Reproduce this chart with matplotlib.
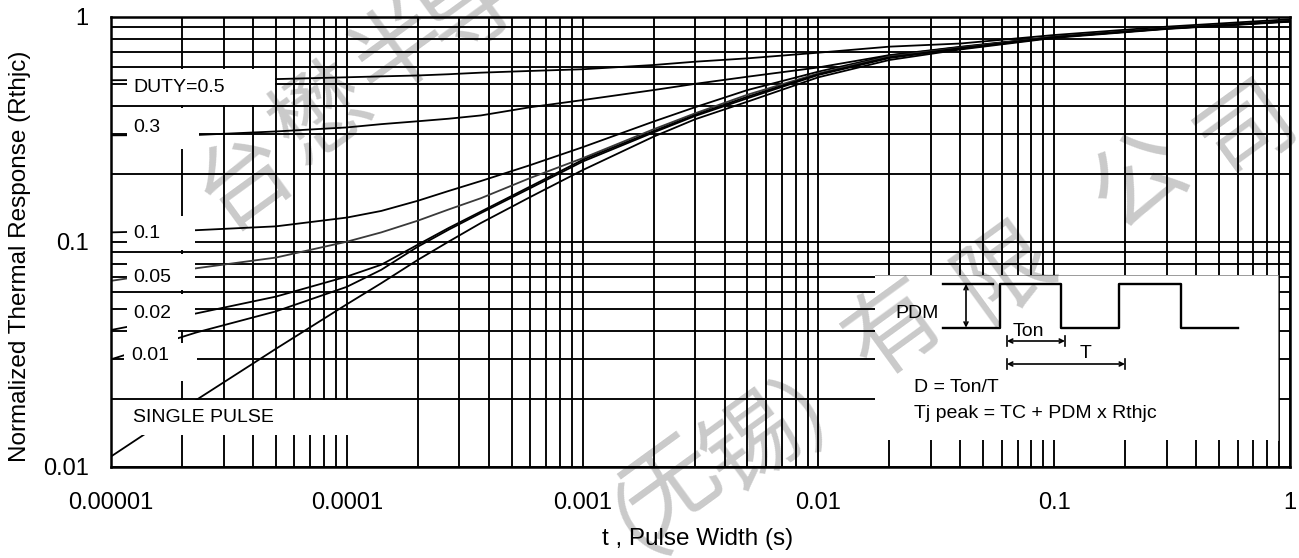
import matplotlib
matplotlib.use("Agg")
import matplotlib.pyplot as plt
from matplotlib.patches import Rectangle
from matplotlib.ticker import LogLocator, NullFormatter

plt.rcParams['font.family'] = ['Liberation Sans', 'DejaVu Sans']

# pulse width t (s)
t = [1e-5, 2.3e-5, 5e-5, 1e-4, 1.4e-4, 2e-4, 2.7e-4, 3.7e-4, 6e-4, 1e-3,
     2e-3, 3e-3, 5e-3, 1e-2, 2e-2, 4e-2, 0.1, 0.3, 1.0]

# normalized thermal response per duty cycle
duty_05 = [0.522, 0.525, 0.528, 0.538, 0.543, 0.548, 0.555, 0.564, 0.574, 0.584,
           0.610, 0.631, 0.653, 0.692, 0.736, 0.760, 0.829, 0.903, 0.974]
duty_03 = [0.297, 0.298, 0.309, 0.322, 0.333, 0.343, 0.352, 0.364, 0.396, 0.426,
           0.472, 0.503, 0.541, 0.595, 0.675, 0.735, 0.815, 0.890, 0.958]
duty_01 = [0.110, 0.1125, 0.117, 0.128, 0.137, 0.152, 0.168, 0.186, 0.219, 0.263,
           0.342, 0.396, 0.472, 0.570, 0.672, 0.732, 0.812, 0.888, 0.956]
duty_005 = [0.067, 0.0762, 0.085, 0.100, 0.110, 0.124, 0.139, 0.156, 0.192, 0.235,
            0.316, 0.372, 0.450, 0.560, 0.665, 0.728, 0.812, 0.888, 0.955]
duty_002 = [0.0405, 0.048, 0.057, 0.070, 0.079, 0.097, 0.115, 0.136, 0.176, 0.231,
            0.310, 0.366, 0.441, 0.555, 0.660, 0.725, 0.810, 0.886, 0.955]
duty_001 = [0.030, 0.0395, 0.049, 0.063, 0.075, 0.095, 0.113, 0.134, 0.173, 0.227,
            0.306, 0.362, 0.434, 0.551, 0.655, 0.720, 0.810, 0.885, 0.953]
single = [0.0111, 0.0198, 0.0334, 0.0527, 0.0654, 0.083, 0.100, 0.121, 0.158, 0.208,
          0.293, 0.350, 0.419, 0.538, 0.642, 0.715, 0.805, 0.882, 0.950]

curve_labels = ["DUTY=0.5", "0.3", "0.1", "0.05", "0.02", "0.01", "SINGLE PULSE"]

xticks = [1e-5, 1e-4, 1e-3, 1e-2, 1e-1, 1]
xticklabels = ["0.00001", "0.0001", "0.001", "0.01", "0.1", "1"]
yticks = [0.01, 0.1, 1]
yticklabels = ["0.01", "0.1", "1"]

watermark = "台懋半导（无锡）有限公司"

W, H = 1299, 558
AX_L, AX_R, AX_T, AX_B = 111, 1290, 16.7, 466.7


def A(px, py):
    # image pixel -> axes fraction
    return (px - AX_L) / (AX_R - AX_L), (AX_B - py) / (AX_B - AX_T)


fig = plt.figure(figsize=(W / 100, H / 100), dpi=100)
ax = fig.add_axes([AX_L / W, (H - AX_B) / H, (AX_R - AX_L) / W, (AX_B - AX_T) / H])
ax.set_xscale('log')
ax.set_yscale('log')
ax.set_xlim(1e-5, 1)
ax.set_ylim(0.01, 1)

series = [duty_05, duty_03, duty_01, duty_005, duty_002, duty_001, single]
colors = ['black', 'black', 'black', '#3a3a3a', 'black', 'black', 'black']
for ys, c in zip(series, colors):
    ax.plot(t, ys, color=c, lw=1.3, zorder=2)

ax.set_xticks(xticks, xticklabels)
ax.set_yticks(yticks, yticklabels)
sub = [2, 3, 4, 5, 6, 7, 8, 9]
ax.xaxis.set_minor_locator(LogLocator(base=10, subs=sub, numticks=20))
ax.yaxis.set_minor_locator(LogLocator(base=10, subs=sub, numticks=20))
ax.xaxis.set_minor_formatter(NullFormatter())
ax.yaxis.set_minor_formatter(NullFormatter())
ax.tick_params(which='both', length=0)
ax.tick_params(axis='x', pad=18, labelsize=17)
ax.tick_params(axis='y', pad=16, labelsize=17)
ax.set_axisbelow(True)
ax.grid(True, which='both', color='black', lw=1.35)
for s in ax.spines.values():
    s.set_linewidth(1.8)
    s.set_zorder(6)

# white label boxes over the grid (pixel boxes: x0, x1, y0, y1)
boxes = [(127, 275, 69, 105), (127, 199, 108, 149), (127, 195, 216, 250),
         (127, 195, 254, 290), (127, 195, 294, 330), (127, 178, 329, 343),
         (124, 197, 343, 381), (112, 400, 400, 435)]
for x0, x1, y0, y1 in boxes:
    ax0, ay0 = A(x0, y1)
    ax1, ay1 = A(x1, y0)
    ax.add_patch(Rectangle((ax0, ay0), ax1 - ax0, ay1 - ay0, transform=ax.transAxes,
                           facecolor='white', edgecolor='none', zorder=3))

label_pos = [(133, 87), (133, 127), (133, 233), (133, 277), (133, 314), (131, 355), (133, 418)]
for lab, (px, py) in zip(curve_labels, label_pos):
    ax.text(*A(px, py), lab, transform=ax.transAxes, fontsize=14,
            ha='left', va='center', zorder=4)

# inset with pulse train definition
ix0, iy0 = A(875, 440)
ix1, iy1 = A(1278, 275)
ax.add_patch(Rectangle((ix0, iy0), ix1 - ix0, iy1 - iy0, transform=ax.transAxes,
                       facecolor='white', edgecolor='none', zorder=3))
ax.plot([ix0, ix1, ix1], [iy1, iy1, iy0], transform=ax.transAxes, color='#8a8a8a',
        lw=0.6, zorder=4)

lo, hi = 327.7, 284
wave_px = [943, 1000, 1000, 1061, 1061, 1119, 1119, 1181, 1181, 1238]
wave_py = [lo, lo, hi, hi, lo, lo, hi, hi, lo, lo]
wx, wy = zip(*[A(a, b) for a, b in zip(wave_px, wave_py)])
ax.plot(wx, wy, transform=ax.transAxes, color='black', lw=1.7, zorder=4)
rx, ry = zip(A(943, hi), A(993, hi))
ax.plot(rx, ry, transform=ax.transAxes, color='black', lw=1.7, zorder=4)

arrow = dict(arrowstyle='<->', lw=1.2, color='black', mutation_scale=7,
             shrinkA=0, shrinkB=0)
ax.annotate('', xy=A(966, hi), xytext=A(966, lo), xycoords='axes fraction',
            textcoords='axes fraction', arrowprops=arrow, zorder=4)
for xa, xb, yy in [(1007, 1065, 341), (1007, 1125, 364)]:
    ax.annotate('', xy=A(xa, yy), xytext=A(xb, yy), xycoords='axes fraction',
                textcoords='axes fraction', arrowprops=arrow, zorder=4)
    for xe in (xa, xb):
        bx, by = zip(A(xe, yy - 5), A(xe, yy + 5))
        ax.plot(bx, by, transform=ax.transAxes, color='black', lw=1.2, zorder=4)

ax.text(*A(939, 313), "PDM", transform=ax.transAxes, fontsize=14, ha='right', va='center', zorder=5)
ax.text(*A(1028, 331), "Ton", transform=ax.transAxes, fontsize=14, ha='center', va='center', zorder=5)
ax.text(*A(1086, 354), "T", transform=ax.transAxes, fontsize=14, ha='center', va='center', zorder=5)
ax.text(*A(914, 387), "D = Ton/T", transform=ax.transAxes, fontsize=14, ha='left', va='center', zorder=5)
ax.text(*A(914, 413), "Tj peak = TC + PDM x Rthjc", transform=ax.transAxes, fontsize=14,
        ha='left', va='center', zorder=5)

fig.text(20 / W, 1 - 256.5 / H, "Normalized Thermal Response (Rthjc)", rotation=90,
         fontsize=17.5, ha='center', va='center')
fig.text(698 / W, 1 - 539.5 / H, "t , Pulse Width (s)", fontsize=17.5,
         ha='center', va='center')

# watermark, one glyph at a time (centres in image pixels)
wm_pos = [(245, 180), (322, 115), (400, 50), (470, 10),
          (607, 510), (672, 488), (752, 445), (830, 398),
          (895, 330), (1005, 272), (1140, 182), (1248, 130)]
wm = dict(family=['Noto Sans CJK SC', 'DejaVu Sans'], fontsize=68, color=(0, 0, 0, 0.21),
          ha='center', va='center', rotation=36, zorder=20)
for ch, (px, py) in zip(watermark, wm_pos):
    fig.text(px / W, 1 - py / H, ch, **wm)

fig.savefig("out.png", dpi=100)
